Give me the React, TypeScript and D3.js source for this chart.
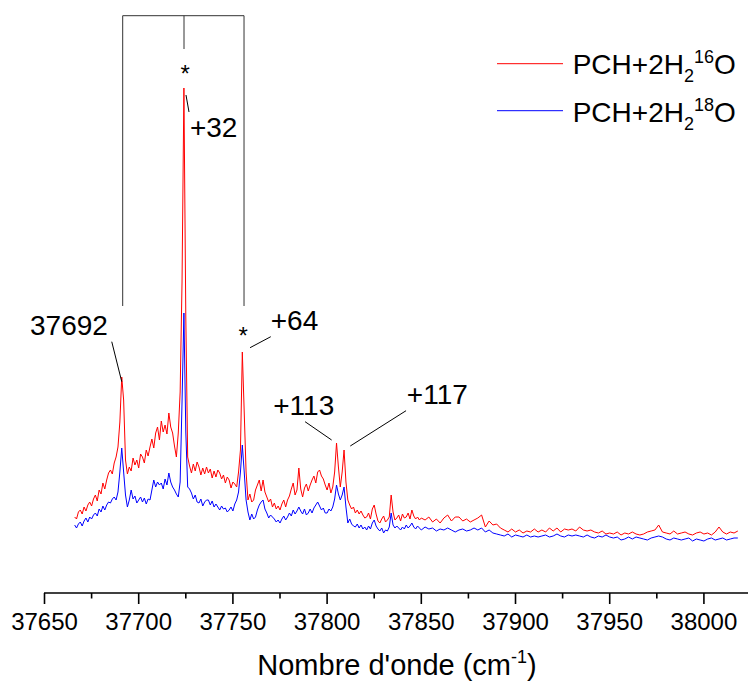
import React from "react";
import * as d3 from "d3";

// x grid (cm-1): 1 cm-1 step up to 37850, 2 cm-1 step beyond
const wavenumbersFine = d3.range(37666, 37851, 1);
const wavenumbersCoarse = d3.range(37852, 38019, 2);

// PCH+2H2(16)O (red), arbitrary intensity units
const red16Fine = [
  15.0, 14.6, 16.0, 16.4, 15.6, 17.0, 16.2, 17.4, 18.0, 17.2,
  18.6, 19.4, 18.2, 20.4, 19.6, 21.8, 20.6, 22.4, 23.8, 24.4,
  23.6, 25.8, 27.0, 29.0, 34.0, 43.0, 38.4, 26.4, 23.6, 25.0,
  24.2, 26.8, 25.4, 26.4, 24.8, 27.6, 27.0, 25.8, 28.4, 27.2,
  29.0, 30.6, 28.8, 31.8, 33.0, 30.4, 34.2, 32.0, 33.4, 31.6,
  35.8, 33.0, 31.8, 29.2, 27.0, 31.8, 40.0, 62.0, 100.8, 55.0,
  27.0, 25.2, 23.8, 25.6, 24.2, 26.0, 25.0, 23.4, 24.8, 23.6,
  25.0, 23.8, 24.6, 22.8, 24.2, 23.0, 24.4, 23.8, 22.6, 23.4,
  21.8, 23.0, 22.4, 20.8, 22.0, 21.6, 21.0, 24.0, 28.4, 48.0,
  36.0, 24.0, 18.4, 19.6, 18.0, 18.4, 20.4, 21.4, 22.4, 20.2,
  22.4, 20.0, 19.0, 18.0, 18.6, 17.0, 17.8, 16.6, 17.2, 16.4,
  17.6, 18.4, 17.0, 18.4, 19.2, 20.6, 21.8, 19.4, 20.4, 24.8,
  20.6, 19.0, 20.8, 21.6, 20.2, 21.4, 22.4, 23.2, 21.8, 24.0,
  24.4, 23.2, 22.6, 21.4, 20.4, 21.8, 19.8, 21.0, 24.0, 29.8,
  25.0, 21.0, 24.0, 28.4, 22.0, 18.4, 17.4, 16.6, 17.0, 15.8,
  16.4, 15.6, 16.2, 15.4, 14.8, 15.0, 15.8, 14.6, 16.6, 17.4,
  15.6, 14.2, 13.8, 14.6, 15.2, 14.0, 14.4, 15.0, 19.4, 16.0,
  14.4, 14.8, 15.4, 14.2, 15.6, 14.8, 15.0, 15.8, 14.6, 16.4,
  15.2, 14.6, 15.0, 14.4, 14.8,
];
const red16Coarse = [
  14.4, 15.0, 14.0, 14.6, 13.8, 14.8, 15.4, 14.2, 15.0, 15.0,
  14.2, 14.6, 14.0, 14.4, 14.8, 15.4, 13.0, 14.2, 13.4, 13.6,
  12.8, 12.4, 12.0, 12.6, 12.0, 12.4, 11.8, 12.2, 12.0, 12.6,
  12.0, 12.4, 12.0, 12.8, 12.2, 12.8, 12.0, 12.6, 12.4, 12.6,
  12.2, 13.0, 12.4, 12.2, 12.4, 12.0, 11.8, 12.2, 11.6, 11.8,
  11.6, 12.0, 11.4, 11.8, 11.6, 12.0, 11.6, 11.4, 11.6, 12.0,
  12.2, 12.4, 13.4, 12.0, 11.8, 11.6, 12.2, 11.6, 11.8, 12.0,
  11.6, 11.4, 11.8, 12.0, 11.6, 11.8, 11.4, 12.0, 13.0, 12.0,
  11.6, 12.0, 11.8, 12.2,
];

// PCH+2H2(18)O (blue)
const blue18Fine = [
  13.4, 12.8, 13.6, 14.0, 13.2, 14.2, 14.8, 14.0, 15.0, 14.6,
  15.4, 15.8, 15.2, 16.6, 16.0, 17.2, 16.4, 17.4, 18.0, 17.8,
  18.6, 19.0, 18.4, 20.0, 24.0, 28.8, 24.0, 19.4, 17.0, 18.4,
  20.4, 18.6, 19.2, 17.8, 18.4, 19.0, 18.0, 18.8, 17.6, 18.6,
  18.4, 20.4, 22.4, 21.0, 22.0, 21.4, 21.8, 20.6, 22.6, 21.4,
  23.8, 22.0, 21.0, 20.4, 19.6, 19.0, 22.0, 38.0, 55.8, 32.0,
  21.0, 20.6, 19.8, 18.6, 19.4, 18.0, 17.8, 18.6, 17.2, 18.0,
  18.4, 18.4, 17.4, 18.2, 17.0, 17.6, 17.0, 16.4, 17.2, 16.6,
  16.8, 16.0, 16.4, 17.0, 16.2, 17.6, 18.4, 20.0, 24.0, 29.4,
  24.0, 18.4, 16.0, 14.4, 15.6, 14.6, 15.0, 16.4, 17.4, 18.0,
  18.4, 16.6, 15.8, 14.8, 15.4, 15.0, 14.6, 14.0, 14.4, 13.8,
  14.6, 15.2, 14.4, 15.0, 15.8, 15.2, 16.4, 15.6, 16.2, 17.0,
  16.2, 15.6, 16.6, 15.4, 15.8, 16.6, 15.8, 16.8, 17.4, 18.0,
  17.2, 16.4, 16.8, 15.8, 15.8, 16.6, 16.2, 17.0, 18.6, 21.4,
  19.6, 18.4, 19.4, 21.0, 17.0, 13.8, 14.6, 13.6, 13.2, 13.0,
  13.6, 12.8, 13.4, 12.6, 13.0, 12.4, 13.2, 12.6, 13.8, 14.4,
  13.2, 12.6, 12.2, 12.8, 11.8, 12.4, 12.2, 13.0, 15.8, 13.4,
  12.8, 13.2, 12.8, 12.4, 13.0, 12.6, 13.4, 12.8, 13.2, 13.8,
  13.0, 12.6, 13.2, 12.8, 12.4,
];
const blue18Coarse = [
  13.0, 12.6, 12.8, 12.2, 12.6, 12.4, 12.8, 12.4, 12.0, 12.4,
  12.6, 12.2, 12.4, 12.8, 12.4, 12.8, 12.0, 12.4, 11.8, 11.6,
  11.4, 11.2, 11.6, 11.0, 11.4, 11.2, 11.0, 11.4, 11.0, 11.2,
  11.0, 11.2, 11.4, 11.0, 11.2, 11.6, 11.2, 11.0, 11.4, 11.2,
  11.4, 11.2, 11.0, 11.4, 11.0, 10.8, 11.2, 11.0, 11.4, 11.0,
  10.8, 11.0, 10.4, 10.6, 11.0, 10.6, 11.0, 10.8, 10.6, 10.4,
  10.8, 11.0, 11.2, 11.0, 10.6, 10.4, 10.8, 10.6, 10.4, 10.6,
  10.8, 10.2, 10.6, 10.4, 10.2, 10.6, 10.8, 10.4, 10.6, 10.8,
  10.4, 10.6, 10.8, 10.8,
];

const xTickValues = [37650, 37700, 37750, 37800, 37850, 37900, 37950, 38000];
const xMinorTickValues = [37675, 37725, 37775, 37825, 37875, 37925, 37975];

const seriesNames = ["PCH+2H", "PCH+2H"];

const FONT = "Arial, 'Liberation Sans', Helvetica, sans-serif";

export default function App() {
  const W = 748;
  const H = 684;
  const axisY = 593;

  const x = d3.scaleLinear().domain([37650, 38023.4]).range([44.5, 748]);
  const y = d3.scaleLinear().domain([0, 100]).range([592, 92]);

  const wn = [...wavenumbersFine, ...wavenumbersCoarse];
  const red = [...red16Fine, ...red16Coarse];
  const blue = [...blue18Fine, ...blue18Coarse];
  const redPts: [number, number][] = wn.map((w, i) => [w, red[i]]);
  const bluePts: [number, number][] = wn.map((w, i) => [w, blue[i]]);

  const line = d3
    .line<[number, number]>()
    .x((d) => x(d[0]))
    .y((d) => y(d[1]));

  const ann = (x1: number, y1: number, x2: number, y2: number, k: string) => (
    <line key={k} x1={x(x1)} y1={y(y1)} x2={x(x2)} y2={y(y2)} stroke="#000" strokeWidth={1} />
  );

  return (
    <svg
      width={W}
      height={H}
      style={{ position: "absolute", left: 0, top: 0, display: "block", background: "#fff" }}
      fontFamily={FONT}
    >
      <rect x={0} y={0} width={W} height={H} fill="#fff" />

      {/* bracket */}
      <g stroke="#333" strokeWidth={1} fill="none">
        <path
          d={`M${x(37691.5)},${y(57.2)} V${y(115.26)} H${x(37755.9)} V${y(57.2)}`}
        />
        <line x1={x(37724.05)} y1={y(115.26)} x2={x(37724.05)} y2={y(108.6)} />
      </g>

      {/* spectra */}
      <path d={line(bluePts) || ""} fill="none" stroke="#0000ff" strokeWidth={1} />
      <path d={line(redPts) || ""} fill="none" stroke="#ff0000" strokeWidth={1} />

      {/* annotations */}
      {ann(37685.7, 50.06, 37691.0, 42.06, "a1")}
      {ann(37725.1, 99.4, 37726.7, 96, "a2")}
      {ann(37759.1, 48.86, 37770.1, 51.06, "a3")}
      {ann(37788.3, 34.06, 37802.4, 30.4, "a4")}
      {ann(37841.9, 36.26, 37812.3, 29.2, "a5")}
      <g fontSize={28} fill="#000">
        <text x={x(37642.3)} y={y(51.4)}>37692</text>
        <text x={x(37727.2)} y={y(91)}>+32</text>
        <text x={x(37770.1)} y={y(52.4)}>+64</text>
        <text x={x(37771.4)} y={y(35.4)}>+113</text>
        <text x={x(37842.3)} y={y(37.6)}>+117</text>
      </g>
      <g fontSize={24} fill="#000" textAnchor="middle">
        <text x={x(37724.6)} y={y(102)}>*</text>
        <text x={x(37755.5)} y={y(49.66)}>*</text>
      </g>

      {/* x axis */}
      <g>
        <line x1={x(37650) - 0.5} x2={W} y1={axisY} y2={axisY} stroke="#000" strokeWidth={1.6} />
        {xTickValues.map((t) => (
          <line key={"M" + t} x1={x(t)} x2={x(t)} y1={axisY} y2={axisY + 11} stroke="#000" strokeWidth={1.6} />
        ))}
        {xMinorTickValues.map((t) => (
          <line key={"m" + t} x1={x(t)} x2={x(t)} y1={axisY} y2={axisY + 5.5} stroke="#000" strokeWidth={1.6} />
        ))}
        {xTickValues.map((t) => (
          <text key={"L" + t} x={x(t)} y={630} fontSize={24} textAnchor="middle" fill="#000">
            {t}
          </text>
        ))}
        <text x={397} y={675} fontSize={29} textAnchor="middle" fill="#000">
          Nombre d'onde (cm
          <tspan fontSize={18} dy={-12}>-1</tspan>
          <tspan dy={12}>)</tspan>
        </text>
      </g>

      {/* legend */}
      <g>
        <line x1={497} x2={563} y1={63.7} y2={63.7} stroke="#ff0000" strokeWidth={1} />
        <text x={572.7} y={74} fontSize={28} fill="#000">
          {seriesNames[0]}
          <tspan fontSize={18} dy={8}>2</tspan>
          <tspan fontSize={18} dy={-19}>16</tspan>
          <tspan dy={11}>O</tspan>
        </text>
        <line x1={497} x2={563} y1={110.7} y2={110.7} stroke="#0000ff" strokeWidth={1} />
        <text x={572.7} y={122} fontSize={28} fill="#000">
          {seriesNames[1]}
          <tspan fontSize={18} dy={8}>2</tspan>
          <tspan fontSize={18} dy={-19}>18</tspan>
          <tspan dy={11}>O</tspan>
        </text>
      </g>
    </svg>
  );
}
